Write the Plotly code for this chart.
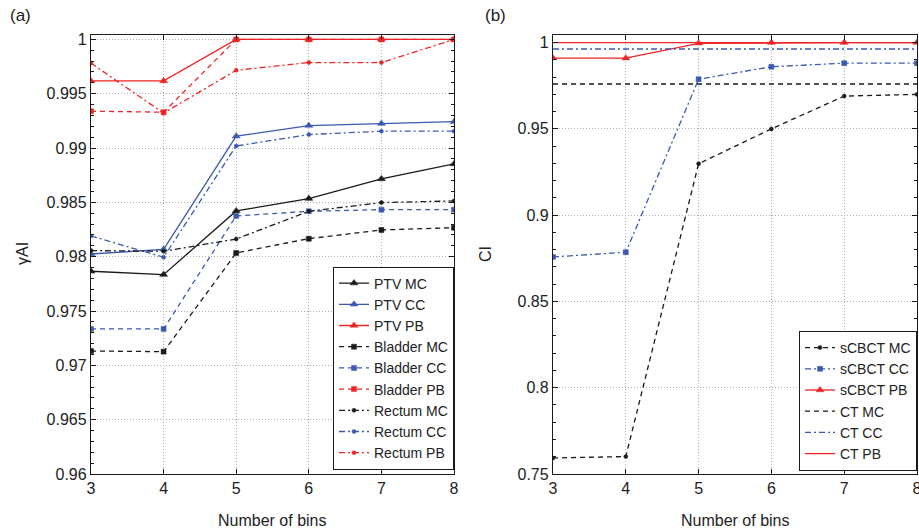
import plotly.graph_objects as go

# ---------------- data ----------------
bins = [3, 4, 5, 6, 7, 8]

# panel (a): gamma AI
ptv_mc = [0.97866, 0.97835, 0.98421, 0.98535, 0.98716, 0.98854]
ptv_cc = [0.98025, 0.98068, 0.99109, 0.99207, 0.99225, 0.99243]
ptv_pb = [0.99618, 0.99618, 1.0, 1.0, 1.0, 1.0]
bladder_mc = [0.97132, 0.97126, 0.98034, 0.98166, 0.98246, 0.98267]
bladder_cc = [0.97335, 0.97335, 0.98375, 0.98418, 0.98433, 0.98433]
bladder_pb = [0.99339, 0.99330, 1.0, 1.0, 1.0, 1.0]
rectum_mc = [0.98056, 0.98050, 0.98163, 0.98418, 0.98498, 0.98513]
rectum_cc = [0.98191, 0.97995, 0.99019, 0.99124, 0.99155, 0.99155]
rectum_pb = [0.99781, 0.99321, 0.99716, 0.99787, 0.99787, 1.0]

# panel (b): CI
scbct_mc = [0.7593, 0.7601, 0.9298, 0.9500, 0.9690, 0.9700]
scbct_cc = [0.8758, 0.8785, 0.9788, 0.9860, 0.9881, 0.9881]
scbct_pb = [0.9910, 0.9910, 0.9996, 1.0, 1.0, 1.0]
ct_mc = [0.976, 0.976, 0.976, 0.976, 0.976, 0.976]
ct_cc = [0.9963, 0.9963, 0.9963, 0.9963, 0.9963, 0.9963]
ct_pb = [1.0, 1.0, 1.0, 1.0, 1.0, 1.0]

a_ticks = [0.96, 0.965, 0.97, 0.975, 0.98, 0.985, 0.99, 0.995, 1.0]
a_ticktext = ["0.96", "0.965", "0.97", "0.975", "0.98", "0.985", "0.99", "0.995", "1"]
b_ticks = [0.75, 0.8, 0.85, 0.9, 0.95, 1.0]
b_ticktext = ["0.75", "0.8", "0.85", "0.9", "0.95", "1"]
x_ticks = [3, 4, 5, 6, 7, 8]

# ---------------- style ----------------
BLACK = "#1a1a1a"
BLUE = "#3a5ab2"
RED = "#f02424"
DASH = "5px,4px"
DASHDOT = "6px,3px,2px,3px"
FONT = "Liberation Sans, Arial, sans-serif"

fig = go.Figure()


def add(x, y, name, color, dash, symbol, size, xa, ya, legend):
    mode = "lines+markers" if symbol else "lines"
    fig.add_trace(go.Scatter(
        x=x, y=y, name=name, mode=mode,
        line=dict(color=color, width=1.3, dash=dash),
        marker=dict(symbol=symbol or "circle", size=size, color=color,
                    line=dict(color=color, width=0.5)),
        xaxis=xa, yaxis=ya, legend=legend,
    ))


add(bins, ptv_mc, "PTV MC", BLACK, "solid", "triangle-up", 7, "x", "y", "legend")
add(bins, ptv_cc, "PTV CC", BLUE, "solid", "triangle-up", 7, "x", "y", "legend")
add(bins, ptv_pb, "PTV PB", RED, "solid", "triangle-up", 7, "x", "y", "legend")
add(bins, bladder_mc, "Bladder MC", BLACK, DASH, "square", 5, "x", "y", "legend")
add(bins, bladder_cc, "Bladder CC", BLUE, DASH, "square", 5, "x", "y", "legend")
add(bins, bladder_pb, "Bladder PB", RED, DASH, "square", 5, "x", "y", "legend")
add(bins, rectum_mc, "Rectum MC", BLACK, DASHDOT, "circle", 4, "x", "y", "legend")
add(bins, rectum_cc, "Rectum CC", BLUE, DASHDOT, "circle", 4, "x", "y", "legend")
add(bins, rectum_pb, "Rectum PB", RED, DASHDOT, "circle", 4, "x", "y", "legend")

add(bins, scbct_mc, "sCBCT MC", BLACK, DASH, "circle", 4, "x2", "y2", "legend2")
add(bins, scbct_cc, "sCBCT CC", BLUE, DASHDOT, "square", 5, "x2", "y2", "legend2")
add(bins, scbct_pb, "sCBCT PB", RED, "solid", "triangle-up", 7, "x2", "y2", "legend2")
add(bins, ct_mc, "CT MC", BLACK, DASH, None, 4, "x2", "y2", "legend2")
add(bins, ct_cc, "CT CC", BLUE, DASHDOT, None, 4, "x2", "y2", "legend2")
add(bins, ct_pb, "CT PB", RED, "solid", None, 4, "x2", "y2", "legend2")

W, H = 919, 530
ytop, ybot = 1 - 34.5 / H, 1 - 474 / H

common_axis = dict(
    showline=True, linecolor=BLACK, linewidth=1.3, mirror="allticks",
    ticks="inside", ticklen=5, tickcolor=BLACK, tickwidth=1,
    showgrid=True, gridcolor="#b0b0b0", griddash="1px,2px", gridwidth=1,
    zeroline=False, tickfont=dict(family=FONT, size=16, color="#222"),
    automargin=False, fixedrange=True, ticklabeloverflow="allow",
)

leg_common = dict(bgcolor="white", bordercolor=BLACK, borderwidth=1,
                  font=dict(family=FONT, size=14, color="#222"),
                  itemwidth=30, tracegroupgap=0)

fig.update_layout(
    width=W, height=H,
    margin=dict(l=0, r=0, t=0, b=0),
    paper_bgcolor="white", plot_bgcolor="white",
    font=dict(family=FONT, color="#222"),
    xaxis=dict(domain=[91 / W, 454 / W], range=[3, 8], tickvals=x_ticks,
               anchor="y", **common_axis),
    yaxis=dict(domain=[ybot, ytop], range=[0.96, 1.00045], tickvals=a_ticks,
               ticktext=a_ticktext, anchor="x",
               minor=dict(ticks="inside", dtick=0.001, ticklen=3,
                          tickcolor=BLACK, showgrid=False),
               **common_axis),
    xaxis2=dict(domain=[553 / W, 917 / W], range=[3, 8], tickvals=x_ticks,
                anchor="y2", **common_axis),
    yaxis2=dict(domain=[ybot, ytop], range=[0.75, 1.0047], tickvals=b_ticks,
                ticktext=b_ticktext, anchor="x2",
                minor=dict(ticks="inside", dtick=0.01, ticklen=3,
                           tickcolor=BLACK, showgrid=False),
                **common_axis),
    legend=dict(x=454 / W, xanchor="right", y=1 - 469.5 / H, yanchor="bottom",
                **leg_common),
    legend2=dict(x=917 / W, xanchor="right", y=1 - 471 / H, yanchor="bottom",
                 **leg_common),
    showlegend=True,
)

ann_font = dict(family=FONT, size=16, color="#222")
annots = [
    dict(text="(a)", x=8 / W, y=1 - 16 / H, xanchor="left", yanchor="middle",
         font=dict(family=FONT, size=17, color="#222")),
    dict(text="(b)", x=483 / W, y=1 - 16 / H, xanchor="left", yanchor="middle",
         font=dict(family=FONT, size=17, color="#222")),
    dict(text="Number of bins", x=272.5 / W, y=1 - 520 / H, xanchor="center",
         yanchor="middle", font=ann_font),
    dict(text="Number of bins", x=735 / W, y=1 - 520 / H, xanchor="center",
         yanchor="middle", font=ann_font),
    dict(text="γAI", x=22 / W, y=1 - 254 / H, xanchor="center",
         yanchor="middle", textangle=-90, font=ann_font),
    dict(text="CI", x=485 / W, y=1 - 254 / H, xanchor="center",
         yanchor="middle", textangle=-90, font=ann_font),
]
for a in annots:
    fig.add_annotation(xref="paper", yref="paper", showarrow=False, **a)

fig.write_html("out.html")
